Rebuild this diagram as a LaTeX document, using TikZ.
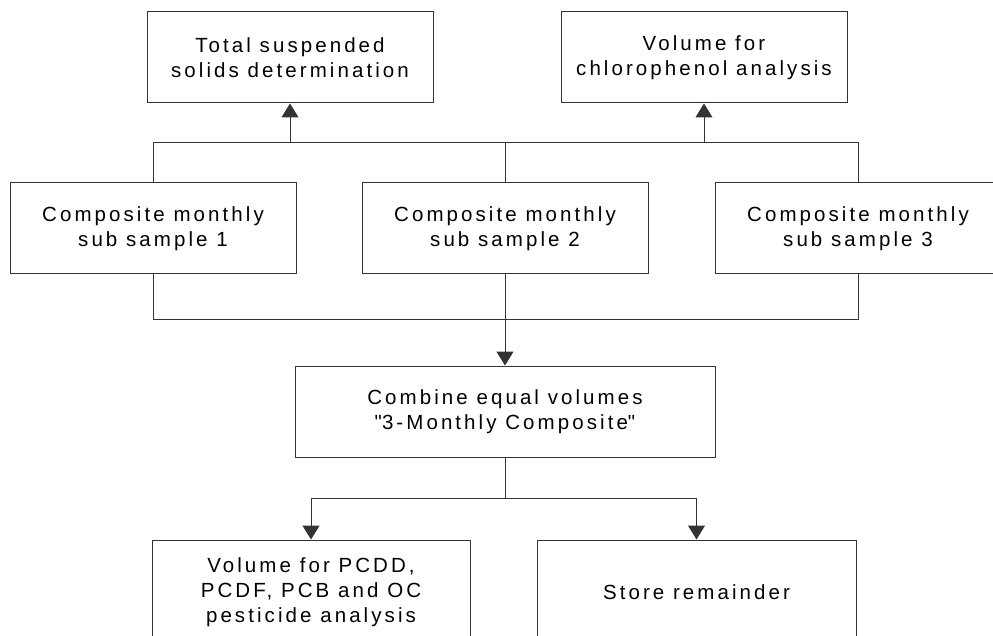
\documentclass[tikz,border=0pt]{standalone}
\usepackage{fontspec}
\setmainfont{Liberation Sans}[LetterSpace=15]
\usetikzlibrary{arrows.meta}
\tikzset{
  stagebox/.style={draw=black!80, line width=1pt, align=center, inner sep=0pt,
    minimum width=286pt, minimum height=91pt, font=\fontsize{20.5}{25}\selectfont},
  link/.style={draw=black!80, line width=1pt},
  >={Triangle[length=14pt,width=17pt]}
}
\begin{document}
\begin{tikzpicture}[x=1pt,y=-1pt]
\useasboundingbox (0,0) rectangle (993,636);
\clip (0,0) rectangle (993,636);
% analyses taken from the sub samples
\node [stagebox] (tss) at (290,57.5) {Total suspended\\solids determination};
\node [stagebox] (chl) at (704,57.5) {Volume for\\chlorophenol analysis};
% monthly sub samples
\node [stagebox] (s1) at (153,228.5) {Composite monthly\\sub sample 1};
\node [stagebox] (s2) at (505,228.5) {Composite monthly\\sub sample 2};
\node [stagebox] (s3) at (858,228.5) {Composite monthly\\sub sample 3};
% 3-monthly composite
\node [stagebox, minimum width=420pt] (comb) at (505,411.5) {Combine equal volumes\\\textquotedbl 3-Monthly Composite\textquotedbl};
\node [stagebox, minimum width=318pt, minimum height=104pt] (pcdd) at (311,592) {Volume for PCDD,\\PCDF, PCB and OC\\pesticide analysis};
\node [stagebox, minimum width=319pt, minimum height=104pt] (store) at (696.5,592) {Store remainder};
% buses
\coordinate (upbus) at (0,143);
\coordinate (lowbus) at (0,319);
\coordinate (split) at (0,498);
% upper connections
\draw [link] (s1.north) -- (s1.north |- upbus) -- (s3.north |- upbus) -- (s3.north);
\draw [link] (s2.north) -- (s2.north |- upbus);
\draw [link,->] (tss.south |- upbus) -- (tss.south);
\draw [link,->] (chl.south |- upbus) -- (chl.south);
% lower connections
\draw [link] (s1.south) -- (s1.south |- lowbus) -- (s3.south |- lowbus) -- (s3.south);
\draw [link,->] (s2.south) -- (comb.north);
\draw [link] (comb.south) -- (comb.south |- split);
\draw [link,->] (comb.south |- split) -| (pcdd.north);
\draw [link,->] (comb.south |- split) -| (store.north);
\end{tikzpicture}
\end{document}
